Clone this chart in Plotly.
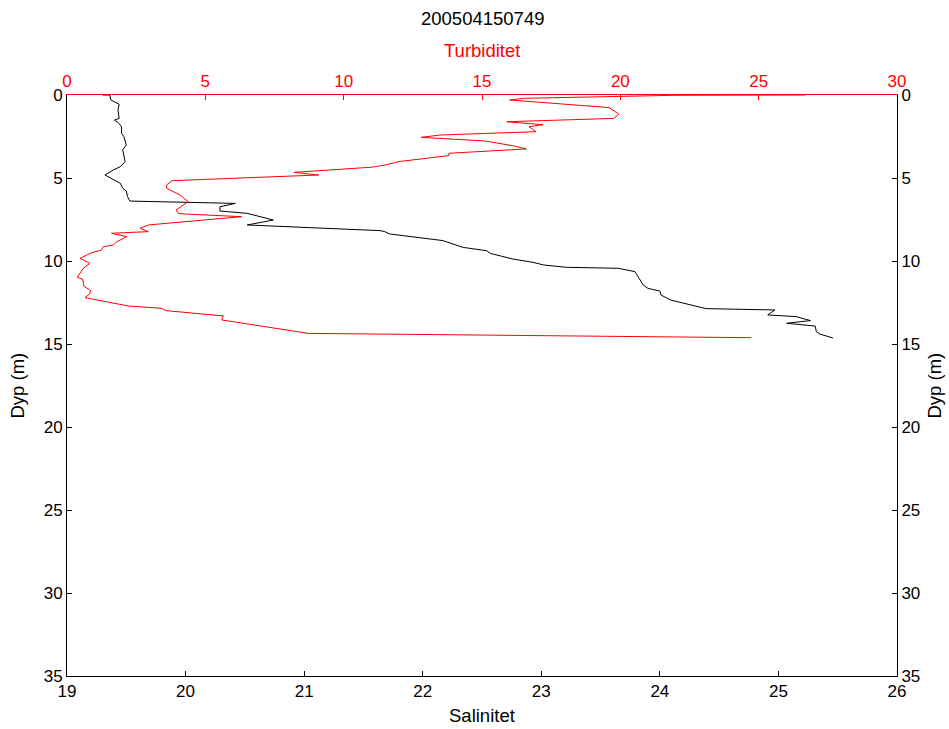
import plotly.graph_objects as go

# Salinity profile (bottom axis)
sal_depth = [0.00, 0.00, 0.30, 0.40, 0.56, 0.90, 1.41, 1.51, 1.65, 1.91, 2.31, 2.51, 3.01, 3.31,
             4.02, 4.32, 4.52, 4.82, 5.12, 5.32, 5.62, 5.78, 6.12, 6.39, 6.53, 6.73, 6.99, 7.13,
             7.53, 7.83, 8.17, 8.23, 8.37, 8.53, 8.77, 9.18, 9.38, 9.54, 9.88, 10.08, 10.24, 10.38,
             10.44, 10.64, 11.45, 11.65, 11.81, 12.05, 12.35, 12.87, 12.95, 13.25, 13.35, 13.59,
             13.75, 13.92, 14.26, 14.40, 14.64]
salinity = [19.30, 19.36, 19.37, 19.40, 19.44, 19.43, 19.44, 19.40, 19.43, 19.46, 19.46, 19.48, 19.50, 19.47,
            19.49, 19.45, 19.39, 19.32, 19.40, 19.45, 19.47, 19.50, 19.51, 19.53, 20.42, 20.29, 20.29, 20.52,
            20.74, 20.52, 21.64, 21.68, 21.72, 21.92, 22.17, 22.34, 22.54, 22.57, 22.76, 22.93, 23.02, 23.21,
            23.65, 23.79, 23.86, 23.90, 24.00, 24.01, 24.09, 24.39, 24.97, 24.91, 25.15, 25.27,
            25.07, 25.31, 25.32, 25.35, 25.46]

# Turbidity profile (top axis)
turb_depth = [0.00, 0.02, 0.20, 0.30, 0.76, 1.16, 1.41, 1.61, 1.79, 1.91, 2.21, 2.41, 2.55, 2.77,
              3.05, 3.25, 3.51, 3.65, 4.01, 4.22, 4.35, 4.66, 4.82, 5.16, 5.42, 5.62, 6.02, 6.43,
              6.63, 6.93, 7.13, 7.17, 7.33, 7.83, 8.03, 8.23, 8.33, 8.53, 8.84, 9.04, 9.14, 9.34,
              9.50, 9.84, 10.14, 10.44, 10.98, 11.10, 11.51, 11.79, 11.99, 12.21, 12.71, 12.85,
              12.99, 13.31, 13.55, 14.36, 14.62]
turbidity = [26.7, 21.9, 16.5, 16.0, 19.6, 19.95, 19.75, 15.9, 17.2, 16.7, 16.95, 13.5, 12.8, 15.1,
             16.1, 16.6, 13.8, 13.8, 12.0, 11.5, 11.0, 8.2, 9.1, 3.8, 3.6, 3.6, 4.08, 4.38,
             4.20, 3.94, 4.02, 4.26, 6.31, 2.94, 2.64, 2.94, 1.61, 2.16, 1.80, 1.67, 1.31, 1.25,
             0.89, 0.47, 0.83, 0.59, 0.37, 0.57, 0.61, 0.86, 0.81, 0.65, 2.22, 3.42,
             3.58, 5.65, 5.59, 8.72, 24.74]

sal_ticks = [19, 20, 21, 22, 23, 24, 25, 26]
turb_ticks = [0, 5, 10, 15, 20, 25, 30]
depth_ticks = [0, 5, 10, 15, 20, 25, 30, 35]

FONT = "Liberation Sans, Arial, sans-serif"
TICK = 17
LAB = 18.5

fig = go.Figure()
fig.add_trace(go.Scatter(x=salinity, y=sal_depth, mode="lines",
                         line=dict(color="black", width=1), xaxis="x", yaxis="y",
                         showlegend=False))
fig.add_trace(go.Scatter(x=turbidity, y=turb_depth, mode="lines",
                         line=dict(color="red", width=1), xaxis="x2", yaxis="y2",
                         showlegend=False))

common = dict(showgrid=False, zeroline=False, showline=True, ticks="inside", ticklen=5,
              tickwidth=1, linewidth=1)

fig.update_layout(
    width=949, height=729,
    margin=dict(l=67, r=52, t=95, b=53),
    paper_bgcolor="white", plot_bgcolor="white",
    font=dict(family=FONT, size=TICK, color="black"),
    xaxis=dict(range=[19, 26], tickvals=sal_ticks, linecolor="black", tickcolor="black",
               tickfont=dict(color="black", size=TICK), side="bottom", anchor="y", **common),
    xaxis2=dict(range=[0, 30], tickvals=turb_ticks, linecolor="red", tickcolor="red",
                tickfont=dict(color="red", size=TICK), side="top", overlaying="x",
                anchor="y2", **common),
    yaxis=dict(range=[35, 0], tickvals=depth_ticks, linecolor="black", tickcolor="black",
               tickfont=dict(color="black", size=TICK), side="left", anchor="x", **common),
    yaxis2=dict(range=[35, 0], tickvals=depth_ticks, linecolor="black", tickcolor="black",
                tickfont=dict(color="black", size=TICK), side="right", overlaying="y",
                anchor="x2", **common),
    annotations=[
        dict(text="200504150749", x=0.5, y=1, xref="paper", yref="paper", yshift=77,
             showarrow=False, font=dict(size=LAB, color="black"), yanchor="middle"),
        dict(text="Turbiditet", x=0.5, y=1, xref="paper", yref="paper", yshift=45,
             showarrow=False, font=dict(size=LAB, color="red"), yanchor="middle"),
        dict(text="Salinitet", x=0.5, y=0, xref="paper", yref="paper", yshift=-39,
             showarrow=False, font=dict(size=LAB, color="black"), yanchor="middle"),
        dict(text="Dyp (m)", x=0, y=0.5, xref="paper", yref="paper", xshift=-50,
             textangle=-90, showarrow=False, font=dict(size=LAB, color="black"),
             xanchor="center", yanchor="middle"),
        dict(text="Dyp (m)", x=1, y=0.5, xref="paper", yref="paper", xshift=37,
             textangle=-90, showarrow=False, font=dict(size=LAB, color="black"),
             xanchor="center", yanchor="middle"),
    ],
)

fig.write_html("out.html", config={"displayModeBar": False},
               post_script="document.body.style.margin='0';document.body.style.padding='0';")
